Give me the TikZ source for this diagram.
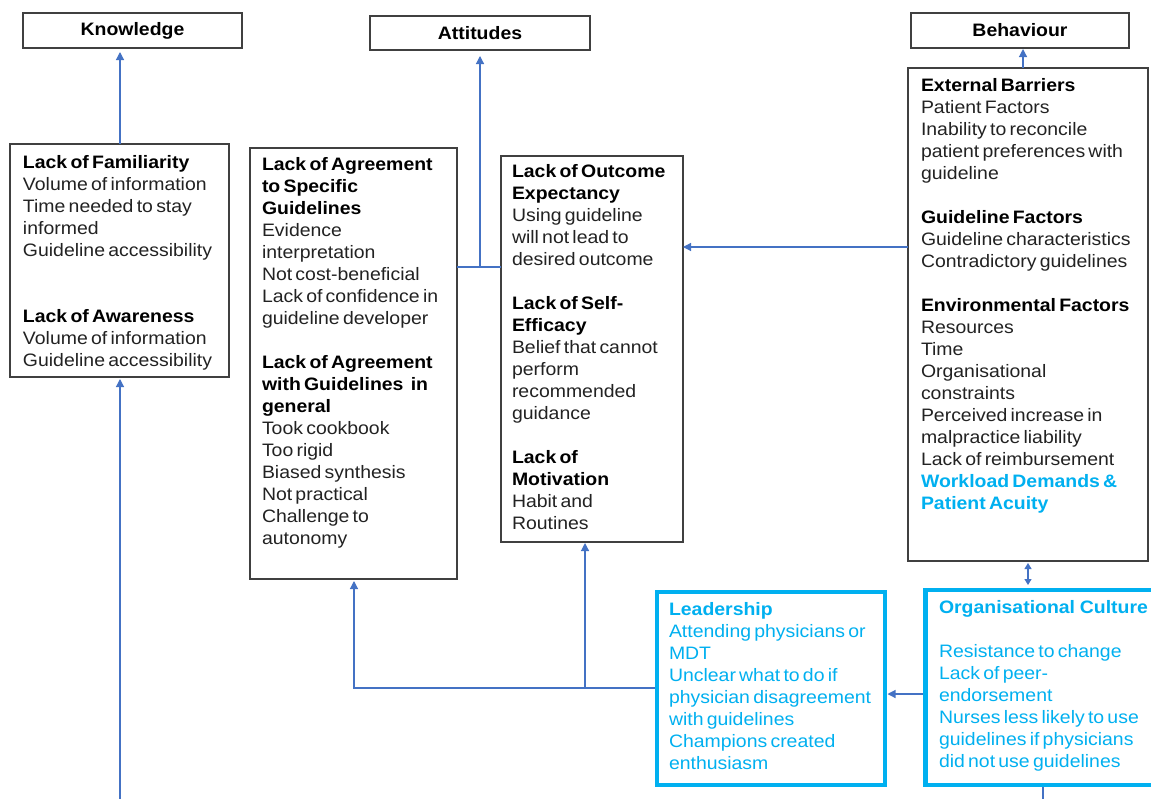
\documentclass[tikz,border=0pt]{standalone}
\usepackage{fontspec}
\setmainfont[FakeStretch=1.08,WordSpace=0.6]{Liberation Sans}
\usetikzlibrary{arrows.meta}
\definecolor{linkblue}{HTML}{4472C4}
\definecolor{hotcyan}{HTML}{00B0F0}
\definecolor{framegray}{HTML}{404040}
\definecolor{inkgray}{HTML}{222222}
\newcommand\titleln[1]{\textbf{\textcolor{black}{#1}}}
\newcommand\hotln[1]{\textbf{\textcolor{hotcyan}{#1}}}
\begin{document}
\begin{tikzpicture}[x=1pt,y=-1pt,
  every node/.style={inner sep=0pt,outer sep=0pt},
  header/.style={draw=framegray,line width=1.2pt,anchor=north west,
    font=\fontsize{18}{22}\selectfont\bfseries},
  panel/.style={draw=framegray,line width=1.3pt,anchor=north west},
  hotpanel/.style={draw=hotcyan,line width=4.5pt,anchor=north west},
  txt/.style={anchor=north west,align=left,text=inkgray,
    font=\fontsize{18}{22}\selectfont},
  hottxt/.style={txt,text=hotcyan},
  link/.style={draw=linkblue,line width=1.2pt},
  tip/.style={-{Triangle[width=8pt,length=8pt]}},
]
\clip (0,0) rectangle (1151,798);
\fill[white] (0,0) rectangle (1151,798);

% column headings
\node[header,minimum width=219pt,minimum height=35pt] (know) at (23,13) {Knowledge};
\node[header,minimum width=220pt,minimum height=34pt] (att) at (370,16) {Attitudes};
\node[header,minimum width=218pt,minimum height=35pt] (beh) at (911,13) {Behaviour};

% barrier panels
\node[panel,minimum width=219pt,minimum height=233pt] (fam) at (10,144) {};
\node[txt] (famtxt) at (23,153.1) {\strut\titleln{Lack of Familiarity}\\
  Volume of information\\
  Time needed to stay\\
  informed\\
  Guideline accessibility\\[44pt]
  \titleln{Lack of Awareness}\\
  Volume of information\\
  Guideline accessibility};

\node[panel,minimum width=207pt,minimum height=431pt] (agr) at (250,148) {};
\node[txt] (agrtxt) at (262,155.1) {\strut\titleln{Lack of Agreement}\\
  \titleln{to Specific}\\
  \titleln{Guidelines}\\
  Evidence\\
  interpretation\\
  Not cost-beneficial\\
  Lack of confidence in\\
  guideline developer\\[22pt]
  \titleln{Lack of Agreement}\\
  \titleln{with Guidelines\hspace{4pt} in}\\
  \titleln{general}\\
  Took cookbook\\
  Too rigid\\
  Biased synthesis\\
  Not practical\\
  Challenge to\\
  autonomy};

\node[panel,minimum width=182pt,minimum height=386pt] (out) at (501,156) {};
\node[txt] (outtxt) at (512,162.1) {\strut\titleln{Lack of Outcome}\\
  \titleln{Expectancy}\\
  Using guideline\\
  will not lead to\\
  desired outcome\\[22pt]
  \titleln{Lack of Self-}\\
  \titleln{Efficacy}\\
  Belief that cannot\\
  perform\\
  recommended\\
  guidance\\[22pt]
  \titleln{Lack of}\\
  \titleln{Motivation}\\
  Habit and\\
  Routines};

\node[panel,minimum width=240pt,minimum height=493pt] (ext) at (908,68) {};
\node[txt] (exttxt) at (921,76.1) {\strut\titleln{External Barriers}\\
  Patient Factors\\
  Inability to reconcile\\
  patient preferences with\\
  guideline\\[22pt]
  \titleln{Guideline Factors}\\
  Guideline characteristics\\
  Contradictory guidelines\\[22pt]
  \titleln{Environmental Factors}\\
  Resources\\
  Time\\
  Organisational\\
  constraints\\
  Perceived increase in\\
  malpractice liability\\
  Lack of reimbursement\\
  \hotln{Workload Demands \&}\\
  \hotln{Patient Acuity}};

% highlighted panels
\node[hotpanel,minimum width=228pt,minimum height=193pt] (lead) at (657,592) {};
\node[hottxt] (leadtxt) at (669,600.1) {\strut\hotln{Leadership}\\
  Attending physicians or\\
  MDT\\
  Unclear what to do if\\
  physician disagreement\\
  with guidelines\\
  Champions created\\
  enthusiasm};

\node[hotpanel,minimum width=260pt,minimum height=195pt] (org) at (925.5,590) {};
\node[hottxt] (orgtxt) at (939,598.1) {\strut\hotln{Organisational\hspace{1.5pt} Culture}\\[22pt]
  Resistance to change\\
  Lack of peer-\\
  endorsement\\
  Nurses less likely to use\\
  guidelines if physicians\\
  did not use guidelines};

% connectors
\coordinate (famj) at (120,0);
\coordinate (floorL) at (120,800);
\coordinate (attj) at (480,267);
\coordinate (extj) at (0,247);
\coordinate (behj) at (1023,0);
\coordinate (orgj) at (0,694);
\coordinate (leadj) at (0,688);
\coordinate (agrj) at (354,0);
\coordinate (outj) at (585,688);
\coordinate (floorR) at (1043,800);

\draw[link,tip,shorten >=4pt] (famj |- fam.north) -- (famj |- know.south);
\draw[link,tip,shorten >=2pt] (floorL) -- (floorL |- fam.south);

\draw[link] (attj -| agr.east) -- (attj -| out.west);
\draw[link,tip,shorten >=6pt] (attj) -- (attj |- att.south);

\draw[link,tip] (extj -| ext.west) -- (extj -| out.east);
\draw[link,tip,shorten >=1pt] (behj |- ext.north) -- (behj |- beh.south);
\draw[link,{Triangle[width=7pt,length=6pt]}-{Triangle[width=7pt,length=6pt]},
  shorten <=2pt,shorten >=5pt] (ext.south) -- (ext.south |- org.north);

\draw[link,tip,shorten <=2.3pt,shorten >=2.5pt] (orgj -| org.west) -- (orgj -| lead.east);
\draw[link,tip,shorten <=2.3pt,shorten >=2pt] (leadj -| lead.west) -- (leadj -| agrj) -- (agrj |- agr.south);
\draw[link,tip,shorten >=1pt] (outj) -- (outj |- out.south);
\draw[link,shorten <=2.3pt] (floorR |- org.south) -- (floorR);
\end{tikzpicture}
\end{document}
